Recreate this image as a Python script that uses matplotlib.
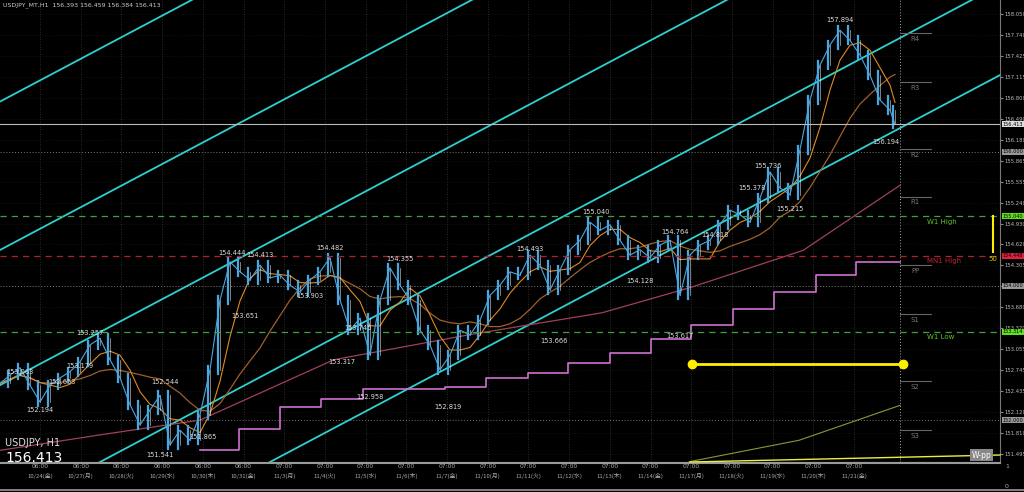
import numpy as np
import pandas as pd
import matplotlib
matplotlib.use("Agg")
import matplotlib.pyplot as plt

plt.rcParams['font.family'] = ['DejaVu Sans', 'Noto Sans CJK JP']

prices = [152.55,152.67,152.78,152.52,152.27,152.52,152.63,152.72,152.87,153.12,153.22,152.90,152.63,152.23,151.93,152.15,152.37,151.63,151.85,151.70,
          152.08,152.75,153.79,154.36,154.21,154.09,154.31,154.12,154.16,154.01,153.91,154.09,154.21,154.42,153.79,153.34,153.52,152.97,153.79,154.27,
          154.01,153.79,153.34,153.12,152.75,152.97,153.34,153.27,153.49,153.86,154.01,154.21,154.16,154.46,154.31,153.94,154.24,154.54,154.68,154.95,
          154.83,154.91,154.68,154.46,154.54,154.42,154.61,154.68,153.86,154.46,154.61,154.68,154.91,155.13,155.06,154.95,155.31,155.70,155.46,155.36,
          156.03,156.77,157.29,157.59,157.81,157.66,157.44,157.14,156.77,156.62,156.41]
step_vals = [151.55,151.87,152.20,152.31,152.46,152.49,152.63,152.70,152.85,153.00,153.21,153.42,153.66,153.91,154.16,154.36]
step_days = [3.93,4.89,5.90,6.90,7.94,9.95,10.96,11.99,12.97,14.0,15.01,16.0,17.03,18.03,19.07,20.05]
slow_days = [-0.98,1.47,3.93,7.22,10.52,13.81,16.0,18.75,21.13]
slow_vals = [151.55,151.78,152.00,152.90,153.27,153.60,153.98,154.53,155.50]
pivot_names = ['R4','R3','R2','R1','PP','S1','S2','S3']
pivot_vals = [157.77,157.04,156.04,155.33,154.31,153.58,152.58,151.85]
wk_days = [15.95,18.65,21.13]
wk_vals = [151.38,151.70,152.22]
dates = ['10/24(金)','10/27(月)','10/28(火)','10/29(水)','10/30(木)','10/31(金)','11/3(月)','11/4(火)','11/5(水)','11/6(木)','11/7(金)',
         '11/10(月)','11/11(火)','11/12(水)','11/13(木)','11/14(金)','11/17(月)','11/18(火)','11/19(水)','11/20(木)','11/21(金)']
times = ['06:00']*6 + ['07:00']*15
yticks = [158.050,157.740,157.425,157.115,156.800,156.490,156.180,155.865,155.555,155.240,154.930,154.620,154.305,154.000,153.680,153.370,153.055,152.745,152.435,152.120,151.810,151.495]
hi_lo = [('153.063',20,372),('152.194',40,410),('152.653',62,382),('153.179',80,366),('153.257',90,333),('152.544',165,382),
         ('151.541',160,455),('151.865',203,437),('154.444',232,253),('154.413',260,255),('153.651',245,316),('153.903',310,296),
         ('154.482',330,248),('153.745',358,328),('153.317',342,362),('152.958',370,397),('154.355',400,259),('152.819',448,407),
         ('154.493',530,249),('153.666',554,341),('155.040',596,212),('154.128',640,281),('154.764',675,232),('153.617',680,336),
         ('154.818',715,235),('155.378',752,188),('155.736',768,166),('155.215',790,209),('157.894',840,20),('156.194',886,142)]
last = 156.413

W, H = 1024, 492
fig = plt.figure(figsize=(W/100, H/100), dpi=100, facecolor='black')
ax = fig.add_axes([0, 30/H, 1000/W, 462/H], facecolor='black')
PX = 40.7
xd = (np.arange(len(prices))*10 - 40)/PX
xd[-1] = (895-40)/PX
ax.set_xlim(-40/PX, 960/PX)
ax.set_ylim(151.376, 158.261)

for d in range(21):
    ax.axvline(d, color='#3a3a3a', lw=0.6, ls=(0,(1,2)))
for t in yticks:
    ax.axhline(t, color='#222222', lw=0.5, ls=(0,(1,3)))
for t in [156.0,154.0,152.0]:
    ax.axhline(t, color='#777777', lw=0.7, ls=(0,(1,2)))

slope = 0.53*PX/67.1
for x0 in [270,100,-145,-400,-680]:
    d0 = (x0-40)/PX
    xs = np.array([-2, 25])
    ax.plot(xs, 151.376 + slope*(xs-d0), color='#2fd0d0', lw=1.3)

ax.step(step_days + [21.13], step_vals + [step_vals[-1]], where='post', color='#d070d0', lw=1.2)
ax.plot(slow_days, slow_vals, color='#a0405a', lw=0.9)
ax.plot(wk_days, wk_vals, color='#8a9a30', lw=0.8)

s = pd.Series(prices)
ax.plot(xd, s.rolling(10, min_periods=1).mean(), color='#a0602a', lw=0.9)
ax.plot(xd, s.rolling(4, min_periods=1).mean(), color='#e08a20', lw=0.8)

for i in range(1, len(prices)):
    lo, hi = min(prices[i-1], prices[i]), max(prices[i-1], prices[i])
    ax.plot([xd[i]-0.06, xd[i]-0.06], [lo-0.06, hi+0.06], color='#4aa6e0', lw=1.6)
    ax.plot([xd[i], xd[i]], [lo, hi], color='#ffffff', lw=0.5, alpha=0.7)
ax.plot(xd, prices, color='#4aa6e0', lw=0.8)

ax.axhline(155.040, color='#40a040', lw=0.9, ls=(0,(5,4)))
ax.axhline(153.314, color='#40a040', lw=0.9, ls=(0,(5,4)))
ax.axhline(154.448, color='#b02030', lw=0.9, ls=(0,(5,4)))
ax.axhline(last, color='#bbbbbb', lw=0.8)
ax.axvline(21.13, color='#aaaaaa', lw=0.7, ls=(0,(1,2)))
for n, v in zip(pivot_names, pivot_vals):
    ax.plot([21.13, 21.9], [v, v], color='#666666', lw=0.8)
    ax.text(21.5, v-0.04, n, color='#777777', fontsize=5, ha='center', va='top')
ax.text(21.8, 155.0, 'W1 High', color='#60c030', fontsize=5, va='top')
ax.text(21.8, 153.28, 'W1 Low', color='#60c030', fontsize=5, va='top')
ax.text(21.8, 154.42, 'MN1 High', color='#c02030', fontsize=5, va='top')
ax.plot([16.02, 21.2], [152.84, 152.84], color='#ffee00', lw=2, marker='o', ms=6)
ax.plot([23.42, 23.42], [155.04, 154.50], color='#ffee00', lw=1.5)
ax.text(23.3, 154.45, '50', color='#cccc00', fontsize=5, va='top')

ax.tick_params(left=False, bottom=False, labelleft=False, labelbottom=False)
ax.yaxis.tick_right()
ax.set_yticks(yticks)
ax.set_yticklabels([f'{t:.3f}' for t in yticks], color='#bbbbbb', fontsize=3.8)
ax.tick_params(axis='y', right=True, labelright=True, length=2, color='#888888', pad=1)
for sp in ax.spines.values():
    sp.set_color('#777777'); sp.set_linewidth(0.8)
ax.spines['left'].set_visible(False); ax.spines['top'].set_visible(False)

for t, v, c in [('155.040', 155.040, '#60e020'), ('153.314', 153.314, '#60e020'), ('154.448', 154.448, '#e02040'),
                ('156.413', last, '#dddddd'), ('156.000', 156.0, '#999999'), ('154.000', 154.0, '#999999'), ('152.000', 152.0, '#999999')]:
    ax.text(1.003, (v-151.376)/(158.261-151.376), t, transform=ax.transAxes, fontsize=3.6, color='black',
            va='center', bbox=dict(boxstyle='square,pad=0.1', fc=c, ec='none'), zorder=5)

for t, x, y in hi_lo:
    fig.text(x/W, 1-y/H, t, color='#dddddd', fontsize=4.8, ha='center', va='center')

fig.text(3/W, 1-5/H, 'USDJPY_MT,H1  156.393 156.459 156.384 156.413', color='#cccccc', fontsize=4.5, va='center')
fig.text(5/W, 1-443/H, 'USDJPY, H1', color='#dddddd', fontsize=7, va='center')
fig.text(5/W, 1-458/H, '156.413', color='#ffffff', fontsize=10, va='center')
for d in range(21):
    x = (40 + PX*d)/W
    fig.text(x, 1-467/H, times[d], color='#aaaaaa', fontsize=4.3, ha='center', va='center')
    fig.text(x, 1-476/H, dates[d], color='#aaaaaa', fontsize=4.3, ha='center', va='center', family=['Noto Sans CJK JP'])
fig.text(1005/W, 1-467/H, '1', color='#aaaaaa', fontsize=4.5, va='center')
fig.text(1005/W, 1-486/H, '0', color='#aaaaaa', fontsize=4.5, va='center')
fig.text(972/W, 1-455/H, 'W-pp', color='white', fontsize=5.5, va='center', bbox=dict(boxstyle='square,pad=0.2', fc='#888888', ec='none'))
fig.add_artist(plt.Line2D([0, 1000/W], [1-463/H]*2, color='#999999', lw=1.5))
fig.add_artist(plt.Line2D([690/W, 1000/W], [1-462/H, 1-455/H], color='#eeee40', lw=1))
fig.add_artist(plt.Line2D([0, 1], [1-490/H]*2, color='#999999', lw=1.2))
fig.savefig('out.png', dpi=100, facecolor='black')
